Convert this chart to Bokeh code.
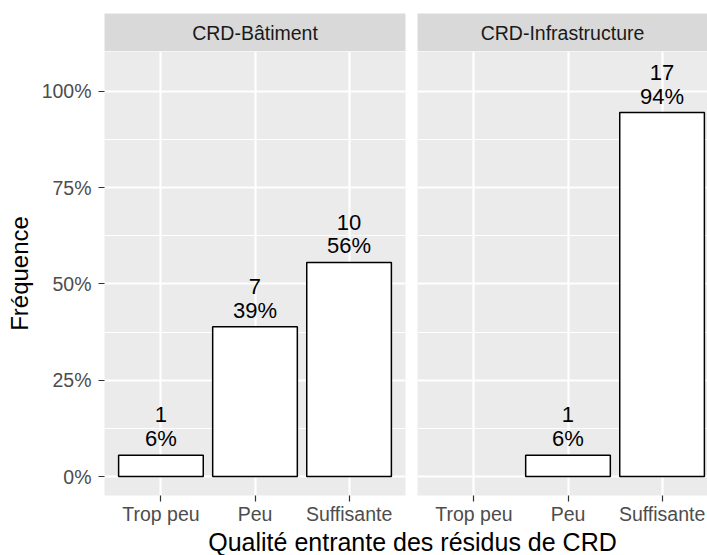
from bokeh.plotting import figure
from bokeh.models import Range1d, FixedTicker, NumeralTickFormatter, ColumnDataSource
from bokeh.layouts import row, column
from bokeh.embed import file_html
from bokeh.resources import INLINE
from bokeh.core.properties import value

# ---- data ----
facets = ["CRD-Bâtiment", "CRD-Infrastructure"]
categories = ["Trop peu", "Peu", "Suffisante"]
counts_batiment = [1, 7, 10]
counts_infra = [0, 1, 17]
ytick_values = [0, 0.25, 0.5, 0.75, 1.0]
yminor_values = [0.125, 0.375, 0.625, 0.875]
x_title = "Qualité entrante des résidus de CRD"
y_title = "Fréquence"

FONT = "Liberation Sans"
PANEL_BG = "#EBEBEB"
STRIP_BG = "#D9D9D9"
Y0, Y1 = -0.049, 1.103


def make_source(counts):
    total = sum(counts)
    xs, tops, texts = [], [], []
    for i, c in enumerate(counts):
        if c == 0:
            continue
        xs.append(i + 1)
        tops.append(c / total)
        texts.append(f"{c}\n{round(100 * c / total)}%")
    return ColumnDataSource(dict(x=xs, top=tops, label=texts))


def make_panel(counts, width, left, right, x_end, show_y):
    p = figure(width=width, height=476, x_range=Range1d(0.4, x_end), y_range=Range1d(Y0, Y1),
               output_backend="svg", toolbar_location=None,
               y_axis_location="left" if show_y else None,
               min_border_left=left, min_border_right=right,
               min_border_top=0, min_border_bottom=30)
    p.background_fill_color = PANEL_BG
    p.border_fill_color = "white"
    p.outline_line_color = None

    p.xgrid.ticker = FixedTicker(ticks=list(range(1, len(categories) + 1)))
    p.xgrid.grid_line_color = "white"
    p.xgrid.grid_line_width = 2.2
    p.ygrid.ticker = FixedTicker(ticks=ytick_values, minor_ticks=yminor_values)
    p.ygrid.grid_line_color = "white"
    p.ygrid.grid_line_width = 2.2
    p.ygrid.minor_grid_line_color = "white"
    p.ygrid.minor_grid_line_width = 1.1

    xa = p.xaxis[0]
    xa.ticker = FixedTicker(ticks=list(range(1, len(categories) + 1)))
    xa.major_label_overrides = {i + 1: c for i, c in enumerate(categories)}
    xa.axis_line_color = None
    xa.major_tick_line_color = "#333333"
    xa.major_tick_line_width = 1.2
    xa.major_tick_out = 6
    xa.major_tick_in = 0
    xa.minor_tick_line_color = None
    xa.major_label_text_font = FONT
    xa.major_label_text_font_size = "19.5px"
    xa.major_label_text_color = "#4D4D4D"
    xa.major_label_standoff = 1

    if show_y:
        ya = p.yaxis[0]
        ya.ticker = FixedTicker(ticks=ytick_values, minor_ticks=yminor_values)
        ya.formatter = NumeralTickFormatter(format="0%")
        ya.axis_line_color = None
        ya.major_tick_line_color = "#333333"
        ya.major_tick_line_width = 1.2
        ya.major_tick_out = 6
        ya.major_tick_in = 0
        ya.minor_tick_line_color = None
        ya.major_label_text_font = FONT
        ya.major_label_text_font_size = "19.5px"
        ya.major_label_text_color = "#4D4D4D"
        ya.major_label_standoff = 7
        ya.axis_label = y_title
        ya.axis_label_text_font = FONT
        ya.axis_label_text_font_size = "24px"
        ya.axis_label_text_font_style = "normal"
        ya.axis_label_text_color = "black"
        ya.axis_label_standoff = 6

    src = make_source(counts)
    p.vbar(x="x", top="top", bottom=0, width=0.9, source=src,
           fill_color="white", line_color="black", line_width=1.5)
    p.text(x="x", y="top", text="label", source=src, text_align="center",
           text_baseline="bottom", y_offset=-4, text_font=value(FONT),
           text_font_size="22px", text_color="black", text_line_height=0.95)
    return p


def make_strip(name, width, left, right):
    s = figure(width=width, height=51, x_range=Range1d(0, 1), y_range=Range1d(0, 1),
               output_backend="svg", toolbar_location=None,
               x_axis_location=None, y_axis_location=None,
               min_border_left=left, min_border_right=right,
               min_border_top=13, min_border_bottom=0)
    s.background_fill_color = STRIP_BG
    s.border_fill_color = "white"
    s.outline_line_color = None
    s.grid.visible = False
    s.text(x=[0.5], y=[0.5], text=[name], text_align="center", text_baseline="middle",
           text_font=value(FONT), text_font_size="19.5px", text_color="#1A1A1A")
    return s


strip1 = make_strip(facets[0], 417, 104, 12)
panel1 = make_panel(counts_batiment, 417, 104, 12, 3.6, True)
strip2 = make_strip(facets[1], 290, 0, 0)
panel2 = make_panel(counts_infra, 290, 0, 0, 3.483, False)

bottom = figure(width=707, height=28, x_range=Range1d(0, 707), y_range=Range1d(0, 28),
                output_backend="svg", toolbar_location=None,
                x_axis_location=None, y_axis_location=None, min_border=0)
bottom.background_fill_color = "white"
bottom.border_fill_color = "white"
bottom.outline_line_color = None
bottom.grid.visible = False
bottom.text(x=[412], y=[14], text=[x_title], text_align="center",
            text_baseline="middle", text_font=value(FONT),
            text_font_size="25px", text_color="black")

layout = column(row(column(strip1, panel1), column(strip2, panel2)), bottom)

open("out.html", "w").write(file_html(layout, INLINE))
